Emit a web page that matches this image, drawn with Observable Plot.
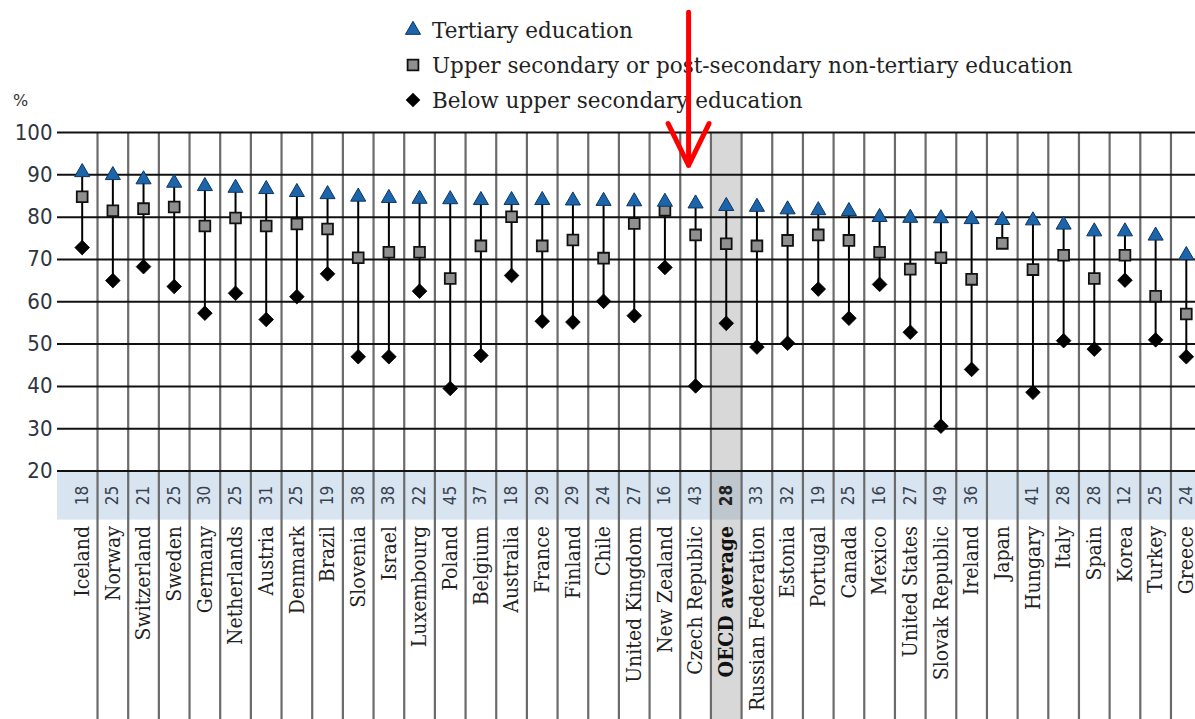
<!DOCTYPE html>
<html>
<head>
<meta charset="utf-8">
<script src="https://cdn.jsdelivr.net/npm/d3@7"></script>
<script src="https://cdn.jsdelivr.net/npm/@observablehq/plot@0.6"></script>
<style>
  html, body { margin: 0; padding: 0; background: #fff; overflow: hidden; }
  #wrap { position: relative; width: 1195px; height: 719px; }
  #legend { position: absolute; left: 0; top: 0; width: 1195px; height: 130px; z-index: 0;
            font-family: "DejaVu Serif", serif; color: #222; }
  .item { position: absolute; left: 402px; height: 30px; display: flex; align-items: center; font-size: 21.5px; white-space: nowrap; }
  .item svg { width: 22px; height: 22px; margin-right: 8px; flex: none; }
  #pct { position: absolute; left: 13px; top: 91px; font-family: "DejaVu Sans", sans-serif; font-size: 16px; color: #333; }
  #chart { position: absolute; left: 0; top: 0; z-index: 1; }
</style>
</head>
<body>
<div id="wrap">
  <div id="legend"></div>
  <div id="chart"></div>
</div>
<script>
// ---- Data ----
const countries = ["Iceland","Norway","Switzerland","Sweden","Germany","Netherlands","Austria","Denmark","Brazil","Slovenia","Israel","Luxembourg","Poland","Belgium","Australia","France","Finland","Chile","United Kingdom","New Zealand","Czech Republic","OECD average","Russian Federation","Estonia","Portugal","Canada","Mexico","United States","Slovak Republic","Ireland","Japan","Hungary","Italy","Spain","Korea","Turkey","Greece"];
const tertiary = [90.6,89.9,88.9,88.1,87.3,86.9,86.6,85.9,85.4,84.8,84.5,84.3,84.2,84.0,84.0,84.0,83.9,83.8,83.7,83.6,83.2,82.6,82.4,81.8,81.6,81.4,80.0,79.8,79.7,79.5,79.3,79.2,78.2,76.6,76.6,75.6,71.0];
const upperSecondary = [84.8,81.5,82.0,82.4,77.9,79.8,77.9,78.4,77.2,70.4,71.7,71.7,65.5,73.2,80.1,73.2,74.6,70.3,78.5,81.6,75.8,73.7,73.2,74.5,75.8,74.5,71.7,67.7,70.4,65.3,73.8,67.6,71.0,65.5,71.0,61.3,57.1];
const belowUpperSecondary = [72.8,65.0,68.3,63.6,57.3,62.0,55.8,61.2,66.6,47.0,47.0,62.5,39.5,47.3,66.2,55.4,55.2,60.1,56.7,68.1,40.1,54.9,49.3,50.2,63.0,56.1,64.1,52.8,30.6,44.0,null,38.6,50.8,48.8,65.1,51.0,47.0];
const gapPoints = [18,25,21,25,30,25,31,25,19,38,38,22,45,37,18,29,29,24,27,16,43,28,33,32,19,25,16,27,49,36,null,41,28,28,12,25,24];
const yTicks = [20,30,40,50,60,70,80,90,100];
const highlighted = "OECD average";
const annotated = "Czech Republic";
const legendLabels = ["Tertiary education","Upper secondary or post-secondary non-tertiary education","Below upper secondary education"];

const rows = countries.map((c, i) => ({
  i, country: c, tertiary: tertiary[i], upper: upperSecondary[i],
  below: belowUpperSecondary[i], gap: gapPoints[i], hl: c === highlighted
}));
const hlIndex = countries.indexOf(highlighted);
const annIndex = countries.indexOf(annotated);

// ---- Layout (y-values below the frame place the number band and labels) ----
const BAND_BOTTOM = 8.4, NUM_Y = 14.2, LABEL_Y = 7.0, BOTTOM_Y = -40;
const serif = "'DejaVu Serif Condensed', 'DejaVu Serif', serif";
const sans = "'DejaVu Sans', sans-serif";
const R_TRI = 5.6, R_SQ = 6.1, R_DIA = 6.6;

// ---- Legend (HTML, behind the SVG so the red arrow crosses it) ----
const legendSymbols = [
  {type: d3.symbolTriangle, size: Math.PI * R_TRI * R_TRI, fill: "#1d65ab", stroke: "#0e3560", sw: 1},
  {type: d3.symbolSquare, size: Math.PI * R_SQ * R_SQ, fill: "#8f8f8f", stroke: "#111", sw: 1.8},
  {type: d3.symbolDiamond2, size: Math.PI * R_DIA * R_DIA, fill: "#000", stroke: "none", sw: 0}
];
const legend = document.getElementById("legend");
legendLabels.forEach((lab, k) => {
  const div = document.createElement("div");
  div.className = "item";
  div.style.top = (15 + 35 * k) + "px";
  const s = legendSymbols[k];
  const path = d3.symbol(s.type, s.size)();
  div.innerHTML = `<svg viewBox="-11 -11 22 22"><path d="${path}" fill="${s.fill}" stroke="${s.stroke}" stroke-width="${s.sw}"/></svg><span>${lab}</span>`;
  legend.appendChild(div);
});
const pct = document.createElement("div");
pct.id = "pct"; pct.textContent = "%";
legend.appendChild(pct);

// ---- Chart ----
const chart = Plot.plot({
  width: 1195, height: 719,
  marginTop: 132, marginBottom: 248.5, marginLeft: 57, marginRight: 0,
  style: {background: "transparent", overflow: "visible", color: "#2e3440"},
  x: {type: "linear", domain: [-0.805, 36.30], axis: null},
  y: {domain: [20, 100], axis: null},
  marks: [
    // light-blue band holding the gap figures
    Plot.rect([{}], {y1: 20, y2: BAND_BOTTOM, fill: "#d8e5f1"}),
    // OECD average highlight column
    Plot.rect([hlIndex], {x1: d => d - 0.5, x2: d => d + 0.5, y1: 100, y2: BOTTOM_Y, fill: "#8a8a8a", fillOpacity: 0.33}),
    // column separators
    Plot.ruleX(d3.range(countries.length - 1), {x: d => d + 0.5, y1: 100, y2: BOTTOM_Y, stroke: "#6b6b6b", strokeWidth: 2.2}),
    // horizontal grid
    Plot.ruleY(yTicks, {stroke: "#111", strokeWidth: 2}),
    Plot.axisY(yTicks, {tickSize: 0, tickPadding: 5, fontSize: 22, fontFamily: sans, fill: "#2e3440"}),
    // range lines
    Plot.ruleX(rows, {x: "i", y1: "tertiary", y2: d => d.below ?? d.upper, stroke: "#000", strokeWidth: 2}),
    // markers
    Plot.dot(rows.filter(d => d.below != null), {x: "i", y: "below", symbol: "diamond2", r: R_DIA, fill: "#000", stroke: "#000", strokeWidth: 0.8}),
    Plot.dot(rows, {x: "i", y: "upper", symbol: "square", r: R_SQ, fill: "#8f8f8f", stroke: "#111", strokeWidth: 1.8}),
    Plot.dot(rows, {x: "i", y: "tertiary", symbol: "triangle", r: R_TRI, fill: "#1d65ab", stroke: "#0e3560", strokeWidth: 1}),
    // gap figures
    Plot.text(rows.filter(d => d.gap != null && !d.hl), {x: "i", y: NUM_Y, text: d => String(d.gap), rotate: -90, fontSize: 17, fontFamily: sans, fill: "#3a4250"}),
    Plot.text(rows.filter(d => d.gap != null && d.hl), {x: "i", y: NUM_Y, text: d => String(d.gap), rotate: -90, fontSize: 17, fontWeight: "bold", fontFamily: sans, fill: "#222"}),
    // country labels
    Plot.text(rows.filter(d => !d.hl), {x: "i", y: LABEL_Y, text: "country", rotate: -90, textAnchor: "end", fontSize: 21, fontFamily: serif, fill: "#222"}),
    Plot.text(rows.filter(d => d.hl), {x: "i", y: LABEL_Y, text: "country", rotate: -90, textAnchor: "end", fontSize: 21, fontWeight: "bold", fontFamily: serif, fill: "#111"}),
    // red annotation arrow
    Plot.arrow([annIndex], {x: d => d, y1: 128.4, y2: 92.2, dx: -7, stroke: "#ff0000", strokeWidth: 5, headLength: 14, headAngle: 52})
  ]
});
chart.style.fontStretch = "condensed";
document.getElementById("chart").appendChild(chart);
</script>
</body>
</html>
